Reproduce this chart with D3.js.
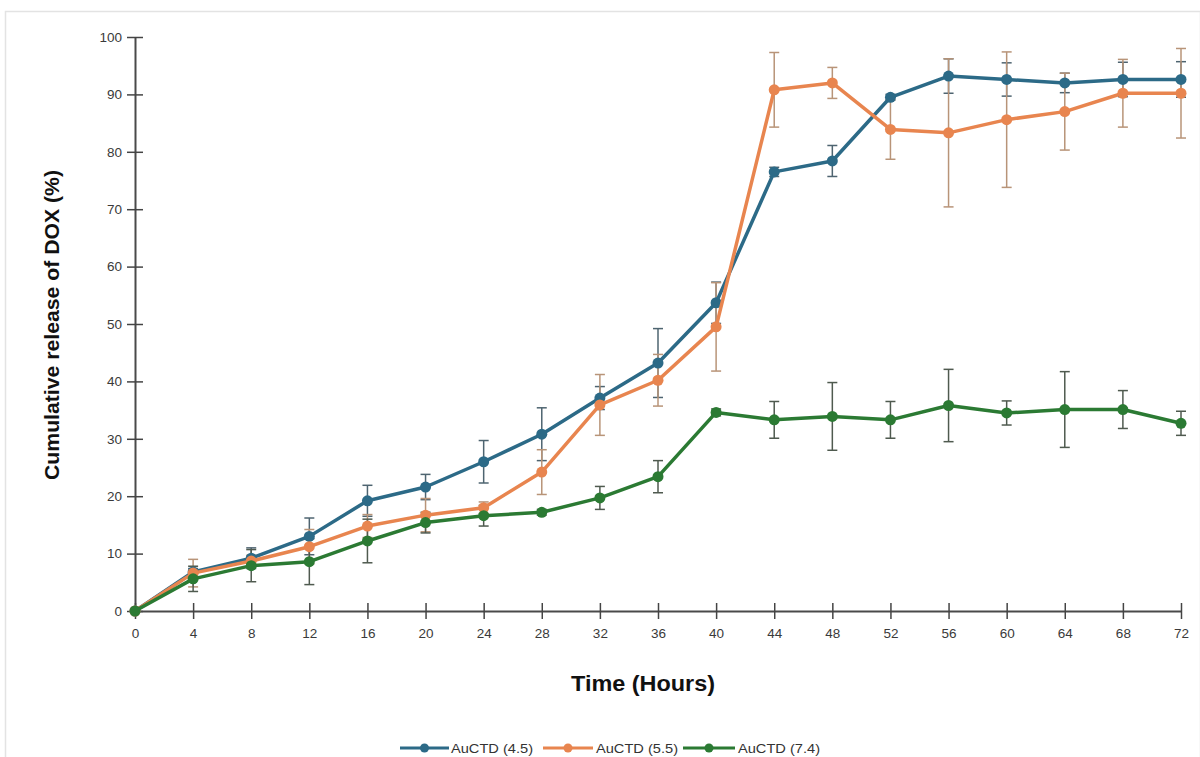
<!DOCTYPE html>
<html>
<head>
<meta charset="utf-8">
<script src="https://cdn.jsdelivr.net/npm/d3@7"></script>
<style>
  html, body { margin: 0; padding: 0; background: #fff; }
  svg { display: block; font-family: "Liberation Sans", Arial, sans-serif; }
</style>
</head>
<body>
<svg id="chart" width="1200" height="757"></svg>
<script>
// Sampling times (hours)
const hours = [0, 4, 8, 12, 16, 20, 24, 28, 32, 36, 40, 44, 48, 52, 56, 60, 64, 68, 72];

// Cumulative DOX release (%) and standard deviations per pH
const release45 = [0, 6.8, 9.2, 13.0, 19.2, 21.6, 26.0, 30.8, 37.1, 43.2, 53.7, 76.5, 78.4, 89.5, 93.2, 92.6, 92.0, 92.6, 92.6];
const sd45      = [0, 0.6, 1.8, 3.2, 2.7, 2.2, 3.7, 4.6, 2.0, 6.0, 3.6, 0.8, 2.7, 0.5, 3.0, 2.9, 1.7, 3.0, 3.1];

const release55 = [0, 6.6, 8.7, 11.2, 14.8, 16.7, 18.0, 24.2, 35.9, 40.2, 49.5, 90.8, 92.0, 83.9, 83.3, 85.6, 87.0, 90.2, 90.2];
const sd55      = [0, 2.4, 1.0, 3.0, 2.0, 2.9, 1.0, 3.9, 5.3, 4.5, 7.7, 6.5, 2.7, 5.2, 12.9, 11.8, 6.7, 5.9, 7.8];

const release74 = [0, 5.6, 7.9, 8.6, 12.2, 15.4, 16.6, 17.2, 19.7, 23.4, 34.6, 33.3, 33.9, 33.3, 35.8, 34.5, 35.1, 35.1, 32.7];
const sd74      = [0, 2.2, 2.8, 4.0, 3.8, 1.8, 1.8, 0.5, 2.0, 2.8, 0.6, 3.2, 5.9, 3.2, 6.3, 2.1, 6.6, 3.3, 2.1];

const seriesNames = ["AuCTD (4.5)", "AuCTD (5.5)", "AuCTD (7.4)"];
const yTicks = [0, 10, 20, 30, 40, 50, 60, 70, 80, 90, 100];

const series = [
  { name: seriesNames[0], values: release45, sd: sd45, color: "#2c6a87", err: "#4e6470" },
  { name: seriesNames[1], values: release55, sd: sd55, color: "#e8854f", err: "#b89478" },
  { name: seriesNames[2], values: release74, sd: sd74, color: "#2b7a33", err: "#4f5a4f" }
];

const svg = d3.select("#chart");
const margin = { left: 135, right: 19, top: 37, bottom: 146 };
const W = 1200, H = 757;

// light frame around the panel
svg.append("rect")
  .attr("x", 5.5).attr("y", 11.5)
  .attr("width", W - 5).attr("height", H)
  .attr("fill", "none").attr("stroke", "#e3e3e3").attr("stroke-width", 1.5);

const x = d3.scaleLinear().domain([0, 72]).range([margin.left, W - margin.right]);
const y = d3.scaleLinear().domain([0, 100]).range([H - margin.bottom, margin.top]);

// y axis
const yAxis = svg.append("g").attr("transform", `translate(${x(0)},0)`)
  .call(d3.axisLeft(y).tickValues(yTicks).tickSize(0).tickPadding(13));
yAxis.select(".domain").attr("stroke", "#4a4a4a").attr("stroke-width", 2);
yAxis.selectAll(".tick line").remove();
yAxis.selectAll(".tick").append("line")
  .attr("x1", -8).attr("x2", 8).attr("stroke", "#444").attr("stroke-width", 1.5);
yAxis.selectAll("text").attr("font-size", 13.5).attr("fill", "#3a3a3a")
  .attr("font-family", "Liberation Sans, Arial, sans-serif");

// x axis
const xAxis = svg.append("g").attr("transform", `translate(0,${y(0)})`)
  .call(d3.axisBottom(x).tickValues(hours).tickSize(0).tickPadding(17));
xAxis.select(".domain").attr("stroke", "#4a4a4a").attr("stroke-width", 2);
xAxis.selectAll(".tick line").remove();
xAxis.selectAll(".tick").append("line")
  .attr("y1", -8).attr("y2", 8).attr("stroke", "#444").attr("stroke-width", 1.5);
xAxis.selectAll("text").attr("font-size", 13.5).attr("fill", "#3a3a3a")
  .attr("font-family", "Liberation Sans, Arial, sans-serif");

// axis titles
svg.append("text")
  .attr("transform", `translate(59,325) rotate(-90)`)
  .attr("text-anchor", "middle").attr("font-weight", "bold").attr("font-size", 20)
  .attr("textLength", 310).attr("lengthAdjust", "spacingAndGlyphs")
  .attr("fill", "#111").text("Cumulative release of DOX (%)");
svg.append("text")
  .attr("x", 643).attr("y", 691)
  .attr("text-anchor", "middle").attr("font-weight", "bold").attr("font-size", 22)
  .attr("textLength", 144).attr("lengthAdjust", "spacingAndGlyphs")
  .attr("fill", "#111").text("Time (Hours)");

const line = d3.line().x((d, i) => x(hours[i])).y(d => y(d));

// error bars
series.forEach(s => {
  const g = svg.append("g");
  s.values.forEach((v, i) => {
    const e = s.sd[i];
    if (!e) return;
    const cx = x(hours[i]);
    g.append("line").attr("x1", cx).attr("x2", cx)
      .attr("y1", y(v - e)).attr("y2", y(v + e))
      .attr("stroke", s.err).attr("stroke-width", 1.5);
    [v - e, v + e].forEach(t => {
      g.append("line").attr("x1", cx - 5).attr("x2", cx + 5)
        .attr("y1", y(t)).attr("y2", y(t))
        .attr("stroke", s.err).attr("stroke-width", 1.5);
    });
  });
});

// lines and markers
series.forEach(s => {
  svg.append("path").datum(s.values)
    .attr("d", line).attr("fill", "none")
    .attr("stroke", s.color).attr("stroke-width", 3.5)
    .attr("stroke-linejoin", "round");
  svg.append("g").selectAll("circle").data(s.values).join("circle")
    .attr("cx", (d, i) => x(hours[i])).attr("cy", d => y(d))
    .attr("r", 5.5).attr("fill", s.color);
});

// legend
const legendItems = [
  { x0: 400, x1: 449, tx: 451 },
  { x0: 543, x1: 593, tx: 596 },
  { x0: 683, x1: 735, tx: 738 }
];
const ly = 748;
series.forEach((s, i) => {
  const L = legendItems[i];
  svg.append("line").attr("x1", L.x0).attr("x2", L.x1).attr("y1", ly).attr("y2", ly)
    .attr("stroke", s.color).attr("stroke-width", 3);
  svg.append("circle").attr("cx", (L.x0 + L.x1) / 2).attr("cy", ly).attr("r", 4.5)
    .attr("fill", s.color);
  svg.append("text").attr("x", L.tx).attr("y", ly + 5)
    .attr("font-size", 13).attr("fill", "#333").attr("textLength", 82)
    .attr("lengthAdjust", "spacingAndGlyphs").text(s.name);
});
</script>
</body>
</html>
